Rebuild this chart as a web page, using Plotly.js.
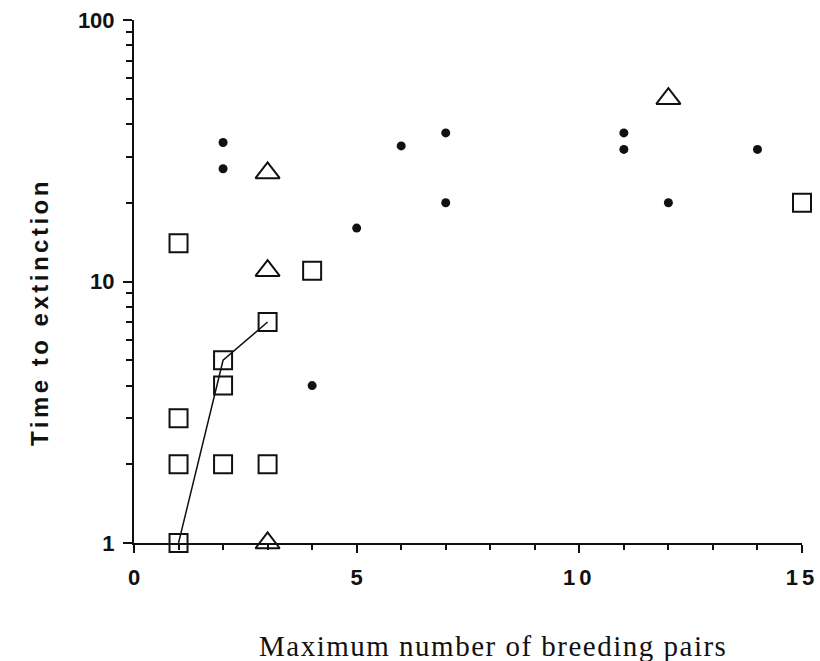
<!DOCTYPE html>
<html>
<head>
<meta charset="utf-8">
<script src="https://cdn.plot.ly/plotly-3.0.1.min.js"></script>
<style>
html, body { margin: 0; padding: 0; background: #fff; }
#chart { width: 820px; height: 661px; }
</style>
</head>
<body>
<div id="chart"></div>
<script>
// Data
const dotsX = [2, 2, 4, 5, 6, 7, 7, 11, 11, 12, 14];
const dotsY = [34, 27, 4, 16, 33, 37, 20, 37, 32, 20, 32];

const squaresX = [1, 1, 1, 1, 2, 2, 2, 3, 3, 4, 15];
const squaresY = [14, 3, 2, 1, 5, 4, 2, 7, 2, 11, 20];

const trianglesX = [3, 3, 3, 12];
const trianglesY = [26, 11, 1, 50];

const lineX = [1, 2, 3];
const lineY = [1, 5, 7];

const xTickVals = [0, 5, 10, 15];
const xTickText = ['0', '5', '10', '15'];
const yTickVals = [1, 10, 100];
const yTickText = ['1', '10', '100'];
const yMinorVals = [2, 3, 4, 5, 6, 7, 8, 9, 20, 30, 40, 50, 60, 70, 80, 90];

const xTitle = 'Maximum number of breeding pairs';
const yTitle = 'Time to extinction';

const ink = '#111111';

const traces = [
  {
    x: lineX, y: lineY, type: 'scatter', mode: 'lines', cliponaxis: false,
    line: { color: ink, width: 1.5 }, hoverinfo: 'skip', showlegend: false
  },
  {
    x: squaresX, y: squaresY, type: 'scatter', mode: 'markers', cliponaxis: false,
    marker: { symbol: 'square-open', size: 18, color: ink, line: { color: ink, width: 2 } },
    showlegend: false
  },
  {
    x: trianglesX, y: trianglesY, type: 'scatter', mode: 'markers', cliponaxis: false,
    marker: { symbol: 'triangle-up-open', size: 21, color: ink, line: { color: ink, width: 2 } },
    showlegend: false
  },
  {
    x: dotsX, y: dotsY, type: 'scatter', mode: 'markers', cliponaxis: false,
    marker: { symbol: 'circle', size: 9, color: ink },
    showlegend: false
  }
];

const spaced = (s, px) => '<span style="letter-spacing:' + px + 'px">' + s + '</span>';

const layout = {
  width: 820, height: 661,
  margin: { l: 134, r: 18, t: 20, b: 118 },
  paper_bgcolor: '#ffffff', plot_bgcolor: '#ffffff',
  font: { family: 'Liberation Sans, Arial, sans-serif', color: ink },
  xaxis: {
    range: [0, 15], showgrid: false, zeroline: false,
    showline: true, linecolor: ink, linewidth: 2,
    ticks: 'outside', ticklen: 8, tickwidth: 2, tickcolor: ink,
    tickmode: 'array', tickvals: xTickVals,
    ticktext: xTickText.map(t => t.length > 1 ? spaced(t, 4) : t),
    tickfont: { size: 22, color: ink, weight: 'bold' },
    minor: { dtick: 1, ticks: 'outside', ticklen: 5, tickwidth: 2, tickcolor: ink, showgrid: false },
    ticklabelstandoff: 6
  },
  yaxis: {
    type: 'log', range: [0, 2], showgrid: false, zeroline: false,
    showline: true, linecolor: ink, linewidth: 2,
    ticks: 'outside', ticklen: 9, tickwidth: 2, tickcolor: ink,
    tickmode: 'array', tickvals: yTickVals, ticktext: yTickText,
    tickfont: { size: 22, color: ink, weight: 'bold' },
    minor: { tickmode: 'array', tickvals: yMinorVals, ticks: 'outside', ticklen: 6, tickwidth: 2, tickcolor: ink, showgrid: false },
    ticklabelstandoff: 4
  },
  annotations: [
    {
      text: spaced(xTitle, 1.5), xref: 'paper', yref: 'paper', x: 0.538, y: -0.2314,
      xanchor: 'center', yanchor: 'bottom', showarrow: false,
      font: { family: 'Liberation Serif, Times New Roman, serif', size: 29, color: ink }
    },
    {
      text: spaced(yTitle, 3.5), xref: 'paper', yref: 'paper', x: -0.1407, y: 0.4417,
      xanchor: 'center', yanchor: 'middle', showarrow: false, textangle: -90,
      font: { family: 'Liberation Sans, Arial, sans-serif', size: 24, color: ink, weight: 'bold' }
    }
  ]
};

Plotly.newPlot('chart', traces, layout, { displayModeBar: false, staticPlot: true });
</script>
</body>
</html>
